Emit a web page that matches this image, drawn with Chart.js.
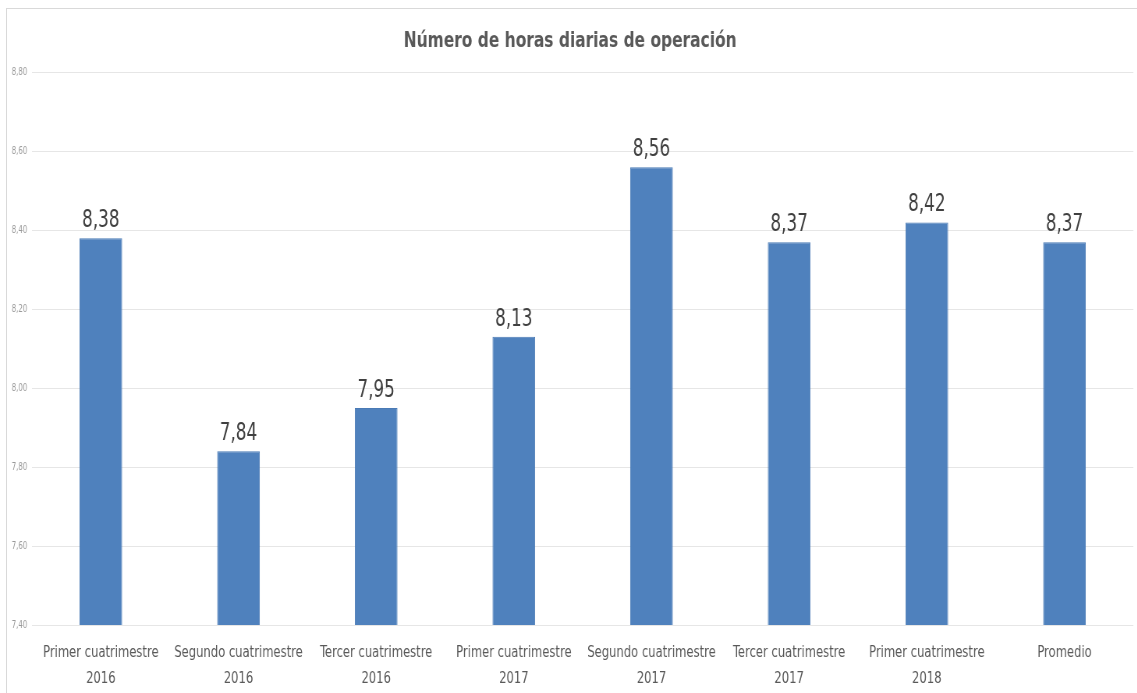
<!DOCTYPE html>
<html>
<head>
<meta charset="utf-8">
<script src="https://cdn.jsdelivr.net/npm/chart.js@4"></script>
<style>
  html, body { margin: 0; background: #fff; overflow: hidden; }
  #wrap {
    position: absolute; left: 6px; top: 8px;
    width: 1131px; height: 685px; overflow: hidden;
    border-left: 1px solid #d9d9d9; border-top: 1px solid #d9d9d9;
  }
  /* the original chart has narrow, tall lettering: draw wider and squeeze */
  #chart { transform: scaleX(0.78); transform-origin: 0 0; }
</style>
</head>
<body>
<div id="wrap"><canvas id="chart" width="1449" height="684"></canvas></div>
<script>
const categories = [
  ["Primer cuatrimestre", "2016"],
  ["Segundo cuatrimestre", "2016"],
  ["Tercer cuatrimestre", "2016"],
  ["Primer cuatrimestre", "2017"],
  ["Segundo cuatrimestre", "2017"],
  ["Tercer cuatrimestre", "2017"],
  ["Primer cuatrimestre", "2018"],
  "Promedio"
];
const hours = [8.38, 7.84, 7.95, 8.13, 8.56, 8.37, 8.42, 8.37];
const yMin = 7.4, yMax = 8.8, yStep = 0.2;

const FONT = "'Liberation Sans Narrow', 'DejaVu Sans Condensed', 'Open Sans', sans-serif";

function fmt(v) {
  return v.toFixed(2).replace(".", ",");
}

// value labels above bars
const barLabels = {
  id: "barLabels",
  afterDatasetsDraw(chart) {
    const ctx = chart.ctx;
    const meta = chart.getDatasetMeta(0);
    ctx.save();
    ctx.font = "24px " + FONT;
    ctx.fillStyle = "#404040";
    ctx.textAlign = "center";
    ctx.textBaseline = "alphabetic";
    meta.data.forEach((bar, i) => {
      ctx.fillText(fmt(hours[i]), bar.x, bar.y - 11);
    });
    ctx.restore();
  }
};

new Chart(document.getElementById("chart"), {
  type: "bar",
  data: {
    labels: categories,
    datasets: [{
      data: hours,
      backgroundColor: "#4f81bd",
      borderColor: "#4a7ab5",
      borderWidth: 1,
      barPercentage: 0.62,
      categoryPercentage: 0.5
    }]
  },
  options: {
    responsive: false,
    animation: false,
    layout: { padding: { left: 0, right: 5, top: 0, bottom: 2 } },
    plugins: {
      legend: { display: false },
      tooltip: { enabled: false },
      title: {
        display: true,
        text: "Número de horas diarias de operación",
        color: "#595959",
        font: { family: FONT, size: 22, weight: "bold" },
        padding: { top: 19, bottom: 18 }
      }
    },
    scales: {
      y: {
        min: yMin, max: yMax,
        ticks: {
          stepSize: yStep,
          color: "#999999",
          font: { family: FONT, size: 10 },
          padding: 6,
          callback: (v) => fmt(v)
        },
        grid: { color: "#e6e6e6", drawTicks: false },
        border: { display: false }
      },
      x: {
        ticks: {
          color: "#595959",
          font: { family: FONT, size: 16.5, lineHeight: 1.58 },
          maxRotation: 0,
          autoSkip: false,
          padding: 15
        },
        grid: { display: false, drawTicks: false },
        border: { display: false },
        afterFit(axis) { axis.height = 66; }
      }
    }
  },
  plugins: [barLabels]
});
</script>
</body>
</html>
